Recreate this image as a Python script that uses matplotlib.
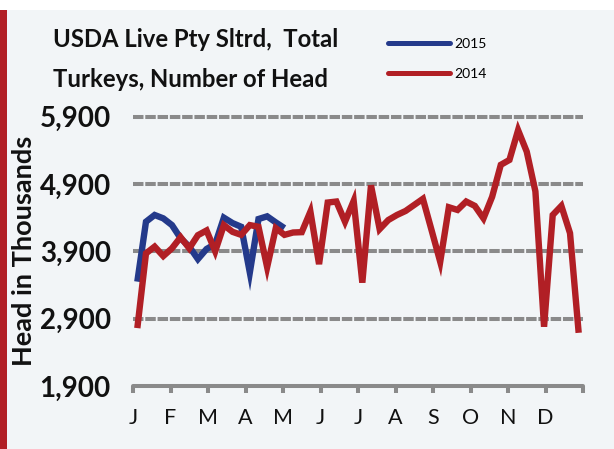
import matplotlib
matplotlib.use("Agg")
import matplotlib.pyplot as plt
from matplotlib.patches import Rectangle

# ---- data ----
months = ["J", "F", "M", "A", "M", "J", "J", "A", "S", "O", "N", "D"]
y_ticks = [1900, 2900, 3900, 4900, 5900]
series_2014 = [2760, 3870, 3970, 3830, 3945, 4110, 3945, 4140, 4210, 3900,
               4290, 4190, 4145, 4290, 4265, 3665, 4245, 4145, 4180, 4185,
               4490, 3710, 4625, 4640, 4340, 4650, 3435, 4880, 4230, 4365,
               4440, 4500, 4590, 4680, 4215, 3745, 4555, 4515, 4640, 4575,
               4390, 4710, 5185, 5258, 5700, 5380, 4790, 2780, 4440, 4575,
               4170, 2690]
series_2015 = [3450, 4340, 4440, 4390, 4290, 4095, 3970, 3785, 3935, 4010,
               4400, 4320, 4265, 3585, 4380, 4420, 4330, 4245]

RED = "#b11f25"
BLUE = "#243a8b"
GRID = "#8a8a8a"
BG = "#f2f5f7"
FONT = "Lato"

W, H = 614, 449
fig = plt.figure(figsize=(W / 100, H / 100), dpi=100, facecolor="white")

# background panel and red side bar
fig.patches.append(Rectangle((0, 0), 1, 1 - 10 / H, transform=fig.transFigure,
                             facecolor=BG, edgecolor="none", zorder=-10))
fig.patches.append(Rectangle((0, 0), 7.3 / W, 1 - 10 / H, transform=fig.transFigure,
                             facecolor=RED, edgecolor="none", zorder=-9))

ax = fig.add_axes([133 / W, 1 - 386 / H, (583 - 133) / W, (386 - 116.7) / H])
ax.set_facecolor("none")
for s in ax.spines.values():
    s.set_visible(False)

ax.set_xlim(-0.5, 51.5)
ax.set_ylim(y_ticks[0], y_ticks[-1])

# gridlines
for v in y_ticks[1:]:
    ax.axhline(v, color=GRID, lw=2.9, dashes=(2.6, 0.45), dash_capstyle="butt",
               clip_on=False, zorder=1)
ax.axhline(y_ticks[0], color=GRID, lw=2.9, solid_capstyle="round",
           clip_on=False, zorder=1)

x14 = list(range(len(series_2014)))
x15 = list(range(len(series_2015)))
l15, = ax.plot(x15, series_2015, color=BLUE, lw=4.6, solid_joinstyle="miter",
               solid_capstyle="butt", zorder=3, label="2015")
l14, = ax.plot(x14, series_2014, color=RED, lw=4.6, solid_joinstyle="miter",
               solid_capstyle="butt", zorder=4, label="2014")

# x ticks at month boundaries
xt = [-0.5 + k * 52 / 12 for k in range(13)]
ax.set_xticks(xt)
ax.set_xticklabels(months + [""], fontsize=15.5, family=FONT, color="#111111")
ax.tick_params(axis="x", length=5, width=2.9, color=GRID, pad=11, direction="out")

ax.set_yticks(y_ticks)
ax.set_yticklabels([f"{v:,}" for v in y_ticks], fontsize=20, family=FONT,
                   weight="bold", color="#111111")
ax.tick_params(axis="y", length=0, pad=16)

fig.text(24 / W, 1 - 251 / H, "Head in Thousands", rotation=90, ha="center",
         va="center", fontsize=19.5, family=FONT, weight="bold", color="#111111")

# title
fig.text(53 / W, 1 - 47 / H, "USDA Live Pty Sltrd,  Total", fontsize=17.2,
         family=FONT, weight="bold", ha="left", va="baseline", color="#111111")
fig.text(53 / W, 1 - 87 / H, "Turkeys, Number of Head", fontsize=17.2,
         family=FONT, weight="bold", ha="left", va="baseline", color="#111111")

leg = fig.legend(handles=[l15, l14], labels=["2015", "2014"],
                 loc="upper left", bbox_to_anchor=(388 / W, 1 - 37.5 / H),
                 frameon=False, handlelength=4.5, handletextpad=0.25,
                 labelspacing=1.35, borderpad=0, borderaxespad=0,
                 prop={"family": FONT, "size": 10})
for h in leg.legend_handles:
    h.set_linewidth(3.6)
    h.set_solid_capstyle("round")

fig.savefig("out.png", dpi=100, facecolor="white")
